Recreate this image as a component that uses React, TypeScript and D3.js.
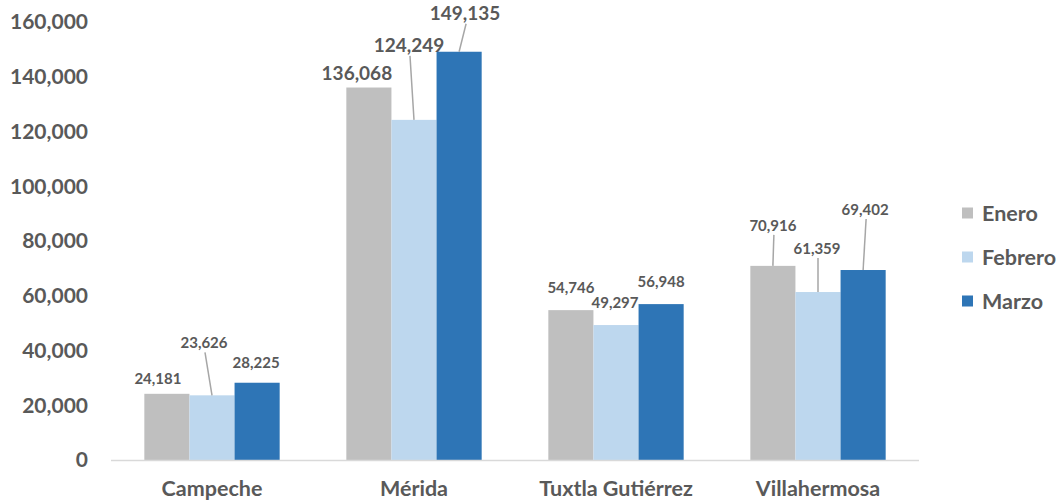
import * as d3 from "d3";
import React, { useEffect, useRef } from "react";

const cities = ["Campeche", "Mérida", "Tuxtla Gutiérrez", "Villahermosa"];
const months = ["Enero", "Febrero", "Marzo"];
const enero = [24181, 136068, 54746, 70916];
const febrero = [23626, 124249, 49297, 61359];
const marzo = [28225, 149135, 56948, 69402];
const yTicks = [0, 20000, 40000, 60000, 80000, 100000, 120000, 140000, 160000];

const colors = ["#bfbfbf", "#bdd7ee", "#2e75b6"];
const textColor = "#595959";
const font = "Lato, 'Open Sans', sans-serif";

// posición de cada etiqueta relativa al tope de su barra (dx, dy de la línea base), y si lleva línea guía
const labelPlace: { dx: number; dy: number; leader: boolean }[][] = [
  [
    { dx: -9, dy: -10, leader: false },
    { dx: -8, dy: -47, leader: true },
    { dx: -1, dy: -15, leader: false },
  ],
  [
    { dx: -12, dy: -8, leader: false },
    { dx: -5, dy: -68, leader: true },
    { dx: 6, dy: -32, leader: true },
  ],
  [
    { dx: 0, dy: -17, leader: false },
    { dx: -1, dy: -17, leader: false },
    { dx: 0, dy: -17, leader: false },
  ],
  [
    { dx: 0, dy: -35, leader: true },
    { dx: -1, dy: -38, leader: true },
    { dx: 2, dy: -55, leader: true },
  ],
];

export default function App() {
  const ref = useRef<SVGSVGElement>(null);

  useEffect(() => {
    const width = 1058;
    const height = 502;
    const svg = d3.select(ref.current);
    svg.selectAll("*").remove();

    const series = [enero, febrero, marzo];

    const x = d3
      .scaleBand<string>()
      .domain(cities)
      .range([111, 919])
      .paddingInner(0.33)
      .paddingOuter(0.165);
    const xSub = d3.scaleBand<string>().domain(months).range([0, x.bandwidth()]);
    const y = d3.scaleLinear().domain([0, 160000]).range([460, 22]);

    // eje y (solo etiquetas)
    svg
      .append("g")
      .selectAll("text")
      .data(yTicks)
      .join("text")
      .attr("x", 88)
      .attr("y", (d) => y(d))
      .attr("dy", "0.35em")
      .attr("text-anchor", "end")
      .attr("font-family", font)
      .attr("font-weight", "bold")
      .attr("font-size", 21)
      .attr("fill", textColor)
      .text((d) => d3.format(",")(d));

    // barras
    const groups = svg
      .append("g")
      .selectAll("g")
      .data(cities)
      .join("g")
      .attr("transform", (c) => `translate(${x(c)},0)`);

    groups
      .selectAll("rect")
      .data((c, ci) => months.map((m, mi) => ({ m, mi, v: series[mi][ci] })))
      .join("rect")
      .attr("x", (d) => xSub(d.m)!)
      .attr("y", (d) => y(d.v))
      .attr("width", xSub.bandwidth())
      .attr("height", (d) => y(0) - y(d.v))
      .attr("fill", (d) => colors[d.mi]);

    // línea base
    svg
      .append("line")
      .attr("x1", 111)
      .attr("x2", 919)
      .attr("y1", y(0) + 0.5)
      .attr("y2", y(0) + 0.5)
      .attr("stroke", "#d9d9d9")
      .attr("stroke-width", 1.5);

    // etiquetas de datos
    cities.forEach((c, ci) => {
      const big = ci === 1;
      const fs = big ? 19 : 15;
      months.forEach((m, mi) => {
        const v = series[mi][ci];
        const cx = x(c)! + xSub(m)! + xSub.bandwidth() / 2;
        const top = y(v);
        const p = labelPlace[ci][mi];
        const lx = cx + p.dx;
        const ly = top + p.dy;
        if (p.leader) {
          svg
            .append("line")
            .attr("x1", lx + 1)
            .attr("y1", ly + 4)
            .attr("x2", cx)
            .attr("y2", top)
            .attr("stroke", "#a6a6a6")
            .attr("stroke-width", 1.5);
        }
        svg
          .append("text")
          .attr("x", lx)
          .attr("y", ly)
          .attr("text-anchor", "middle")
          .attr("font-family", font)
          .attr("font-weight", "bold")
          .attr("font-size", fs)
          .attr("fill", textColor)
          .text(d3.format(",")(v));
      });
    });

    // etiquetas del eje x
    svg
      .append("g")
      .selectAll("text")
      .data(cities)
      .join("text")
      .attr("x", (c) => x(c)! + x.bandwidth() / 2)
      .attr("y", 496)
      .attr("text-anchor", "middle")
      .attr("font-family", font)
      .attr("font-weight", "bold")
      .attr("font-size", 21.5)
      .attr("fill", textColor)
      .text((c) => c);

    // leyenda
    const legend = svg
      .append("g")
      .selectAll("g")
      .data(months)
      .join("g")
      .attr("transform", (m, i) => `translate(962,${213 + i * 44})`);
    legend
      .append("rect")
      .attr("x", 0)
      .attr("y", -5.5)
      .attr("width", 11)
      .attr("height", 11)
      .attr("fill", (m, i) => colors[i]);
    legend
      .append("text")
      .attr("x", 20)
      .attr("y", 0)
      .attr("dy", "0.35em")
      .attr("font-family", font)
      .attr("font-weight", "bold")
      .attr("font-size", 21.5)
      .attr("fill", textColor)
      .text((m) => m);

    svg.attr("viewBox", [0, 0, width, height]);
  }, []);

  return (
    <svg
      ref={ref}
      width={1058}
      height={502}
      style={{ position: "absolute", left: 0, top: 0, background: "#fff" }}
    ></svg>
  );
}
